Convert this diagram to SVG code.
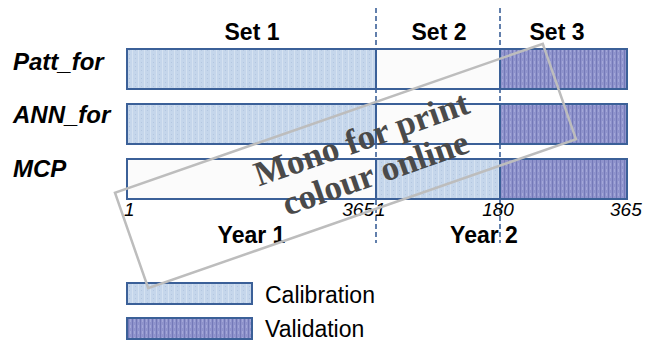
<svg xmlns="http://www.w3.org/2000/svg" width="646" height="348" viewBox="0 0 646 348">
<defs>
<pattern id="calp" width="6" height="4" patternUnits="userSpaceOnUse">
<rect width="6" height="4" fill="#c5d6eb"/>
<rect x="0" y="0" width="1" height="4" fill="#d5e2f1"/>
<rect x="3" y="2" width="1" height="1" fill="#b3c6e0"/>
</pattern>
<pattern id="valp" width="4" height="6" patternUnits="userSpaceOnUse">
<rect width="4" height="6" fill="#8f93cc"/>
<rect x="0" y="0" width="1" height="6" fill="#7479b8"/>
<rect x="2" y="1" width="1" height="3" fill="#a3a7d8"/>
</pattern>
<style>
.bar{stroke:#3b6098;stroke-width:2}
.cal{fill:url(#calp)}
.val{fill:url(#valp)}
.emp{fill:#fbfbfb}
.hdr{font-family:"Liberation Sans",Arial,sans-serif;font-weight:bold;font-size:23px;fill:#000}
.row{font-family:"Liberation Sans",Arial,sans-serif;font-weight:bold;font-style:italic;font-size:24px;fill:#000}
.ax{font-family:"Liberation Sans",Arial,sans-serif;font-style:italic;font-size:19px;fill:#000}
.leg{font-family:"Liberation Sans",Arial,sans-serif;font-size:23px;fill:#000}
.dash{stroke:#3b6098;stroke-width:1.6;stroke-dasharray:5,3;fill:none}
.wm{font-family:"Liberation Serif","Times New Roman",serif;font-weight:bold;font-size:35px;fill:#4a4a4a;text-anchor:middle}
</style>
</defs>
<rect width="646" height="348" fill="#fff"/>

<g id="headers">
<text class="hdr" x="252" y="40" text-anchor="middle">Set 1</text>
<text class="hdr" x="439" y="40" text-anchor="middle">Set 2</text>
<text class="hdr" x="557" y="40" text-anchor="middle">Set 3</text>
</g>

<g id="row-patt">
<text class="row" x="13" y="70">Patt_for</text>
<rect class="bar cal" x="127" y="49" width="249" height="40"/>
<rect class="bar emp" x="376" y="49" width="124" height="40"/>
<rect class="bar val" x="500" y="49" width="127" height="40"/>
</g>
<g id="row-ann">
<text class="row" x="13" y="123">ANN_for</text>
<rect class="bar cal" x="127" y="104" width="249" height="40"/>
<rect class="bar emp" x="376" y="104" width="124" height="40"/>
<rect class="bar val" x="500" y="104" width="127" height="40"/>
</g>
<g id="row-mcp">
<text class="row" x="13" y="177">MCP</text>
<rect class="bar emp" x="127" y="159" width="249" height="40"/>
<rect class="bar cal" x="376" y="159" width="124" height="40"/>
<rect class="bar val" x="500" y="159" width="127" height="40"/>
</g>

<g id="connectors">
<line class="dash" x1="376" y1="8" x2="376" y2="243"/>
<line class="dash" x1="500" y1="8" x2="500" y2="243"/>
</g>

<g id="axis">
<text class="ax" x="124" y="216">1</text>
<text class="ax" x="374" y="216" text-anchor="end">365</text>
<text class="ax" x="375" y="216">1</text>
<text class="ax" x="498" y="216" text-anchor="middle">180</text>
<text class="ax" x="610" y="216">365</text>
<text class="hdr" x="251.5" y="243" text-anchor="middle">Year 1</text>
<text class="hdr" x="484" y="243" text-anchor="middle">Year 2</text>
</g>

<g id="legend">
<rect class="bar cal" x="127" y="283" width="125" height="21"/>
<text class="leg" x="265" y="303">Calibration</text>
<rect class="bar val" x="127" y="318" width="125" height="21"/>
<text class="leg" x="265" y="337">Validation</text>
</g>

<g id="watermark" transform="translate(345.5,166) rotate(-19.2)">
<rect x="-226.5" y="-50.5" width="453" height="101" fill="none" stroke="#bdbdbd" stroke-width="2.5"/>
<text class="wm" x="24" y="-9">Mono for print</text>
<text class="wm" x="26" y="28">colour online</text>
</g>
</svg>
